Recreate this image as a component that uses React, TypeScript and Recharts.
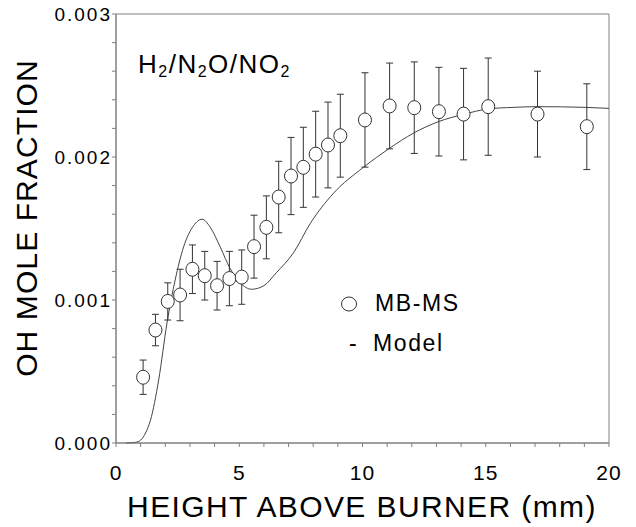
import React from 'react';
import {
    ComposedChart,
    Line,
    Scatter,
    ErrorBar,
    XAxis,
    YAxis,
    ReferenceArea,
    Legend
} from 'recharts';

// MB-MS measurements: height above burner (mm), OH mole fraction, +/- error
const measuredX = [1.1, 1.6, 2.1, 2.6, 3.1, 3.6, 4.1, 4.6, 5.1, 5.6, 6.1, 6.6, 7.1, 7.6, 8.1, 8.6, 9.1, 10.1, 11.1, 12.1, 13.1, 14.1, 15.1, 17.1, 19.1];
const measuredY = [0.00046, 0.00079, 0.00099, 0.001035, 0.001215, 0.00117, 0.0011, 0.00115, 0.00116, 0.001373, 0.001508, 0.00172, 0.001867, 0.001928, 0.00202, 0.002084, 0.002149, 0.002259, 0.002357, 0.002345, 0.002317, 0.0023, 0.002352, 0.0023, 0.002212];
const measuredErr = [0.00012, 0.00011, 0.00013, 0.00018, 0.00017, 0.00017, 0.00017, 0.00019, 0.00019, 0.00022, 0.00022, 0.00025, 0.00027, 0.00028, 0.0003, 0.0003, 0.00029, 0.00033, 0.0003, 0.00032, 0.00031, 0.00032, 0.00034, 0.0003, 0.0003];

// model profile
const modelX = [0.4, 0.8, 1.0, 1.2, 1.4, 1.73, 2.07, 2.4, 2.74, 3.15, 3.49, 3.82, 4.23, 4.63, 5.04, 5.5, 6.0, 6.5, 7.2, 7.88, 8.82, 10.04, 11.09, 12.06, 13.08, 14.09, 15.09, 16.1, 17.09, 19.06, 20];
const modelY = [0, 0.000005, 0.00002, 0.00007, 0.00016, 0.00044, 0.00084, 0.00114, 0.00137, 0.00152, 0.001565, 0.00151, 0.00137, 0.00122, 0.00112, 0.001075, 0.0011, 0.00119, 0.00133, 0.001535, 0.001746, 0.001928, 0.00206, 0.002166, 0.002247, 0.002298, 0.002336, 0.002347, 0.002352, 0.002347, 0.00234];

const xTicks = [0, 1, 2, 3, 4, 5, 6, 7, 8, 9, 10, 11, 12, 13, 14, 15, 16, 17, 18, 19, 20];
const yTicks = [0, 0.0002, 0.0004, 0.0006, 0.0008, 0.001, 0.0012, 0.0014, 0.0016, 0.0018, 0.002, 0.0022, 0.0024, 0.0026, 0.0028, 0.003];

const measured = measuredX.map((x, i) => ({ x, y: measuredY[i], err: measuredErr[i] }));
const model = modelX.map((x, i) => ({ x, y: modelY[i] }));

const FONT = '"Liberation Sans", Arial, sans-serif';
const AXIS = '#808080';

const fmtY = (v: number) => (Math.abs(v * 1000 - Math.round(v * 1000)) < 1e-6 ? v.toFixed(3) : '');
const fmtX = (v: number) => (v % 5 === 0 ? String(v) : '');

const Ring = (props: any) => (
    <ellipse cx={props.cx} cy={props.cy} rx={6.5} ry={7} fill="#fff" stroke="#333" strokeWidth={1} />
);

const XTitle = () => (
    <text x={362} y={517} textAnchor="middle" fontSize={30} letterSpacing={1.4} fill="#000" fontFamily={FONT}>
        HEIGHT ABOVE BURNER (mm)
    </text>
);

const YTitle = () => (
    <text x={37} y={218} textAnchor="middle" fontSize={30} letterSpacing={1.1} fill="#000" fontFamily={FONT}
        transform="rotate(-90 37 218)">
        OH MOLE FRACTION
    </text>
);

const legendText: React.CSSProperties = {
    position: 'absolute', fontSize: 23, lineHeight: '25px', letterSpacing: 1.6, whiteSpace: 'nowrap'
};

const LegendBox = () => (
    <div style={{ position: 'relative', width: 140, height: 70, color: '#000', fontFamily: FONT }}>
        <svg style={{ position: 'absolute', left: 0, top: 8 }} width={18} height={16}>
            <ellipse cx={9} cy={8} rx={7.5} ry={7} fill="none" stroke="#333" />
        </svg>
        <span style={{ ...legendText, left: 35, top: 3 }}>MB-MS</span>
        <span style={{ ...legendText, left: 9, top: 43 }}>-</span>
        <span style={{ ...legendText, left: 33, top: 43 }}>Model</span>
    </div>
);

const App: React.FC = () => {
    return (
        <div style={{ position: 'absolute', left: 0, top: 0, width: 636, height: 527, background: '#fff', fontFamily: FONT }}>
            <ComposedChart width={636} height={527} margin={{ top: 14, right: 27, left: 0, bottom: 0 }}>
                <XAxis
                    dataKey="x"
                    type="number"
                    domain={[0, 20]}
                    ticks={xTicks}
                    interval={0}
                    tickFormatter={fmtX}
                    height={84}
                    tickSize={4}
                    tickMargin={18}
                    stroke={AXIS}
                    tick={{ fill: '#000', fontSize: 21, letterSpacing: 1 }}
                    label={<XTitle />}
                />
                <YAxis
                    type="number"
                    domain={[0, 0.003]}
                    ticks={yTicks}
                    interval={0}
                    tickFormatter={fmtY}
                    width={116}
                    tickSize={4}
                    tickMargin={0}
                    stroke={AXIS}
                    tick={{ fill: '#000', fontSize: 19, letterSpacing: 2 }}
                    label={<YTitle />}
                />
                <ReferenceArea x1={0} x2={20} y1={0} y2={0.003} fill="none" stroke={AXIS} />
                <Line
                    data={model}
                    dataKey="y"
                    type="monotone"
                    stroke="#444"
                    strokeWidth={1}
                    dot={false}
                    isAnimationActive={false}
                />
                <Scatter data={measured} dataKey="y" shape={<Ring />} isAnimationActive={false}>
                    <ErrorBar dataKey="err" direction="y" width={3.5} stroke="#333" strokeWidth={1} />
                </Scatter>
                <Legend
                    layout="vertical"
                    align="center"
                    verticalAlign="middle"
                    content={<LegendBox />}
                    wrapperStyle={{ left: 340, top: 288, width: 140, height: 70 }}
                />
            </ComposedChart>
            <div style={{ position: 'absolute', left: 138, top: 51, fontSize: 26, lineHeight: '26px', letterSpacing: 1.5, color: '#000', whiteSpace: 'nowrap' }}>
                H<span style={{ fontSize: 16, position: 'relative', top: 3.5 }}>2</span>/N<span style={{ fontSize: 16, position: 'relative', top: 3.5 }}>2</span>O/NO<span style={{ fontSize: 16, position: 'relative', top: 3.5 }}>2</span>
            </div>
        </div>
    );
};

export default App;
